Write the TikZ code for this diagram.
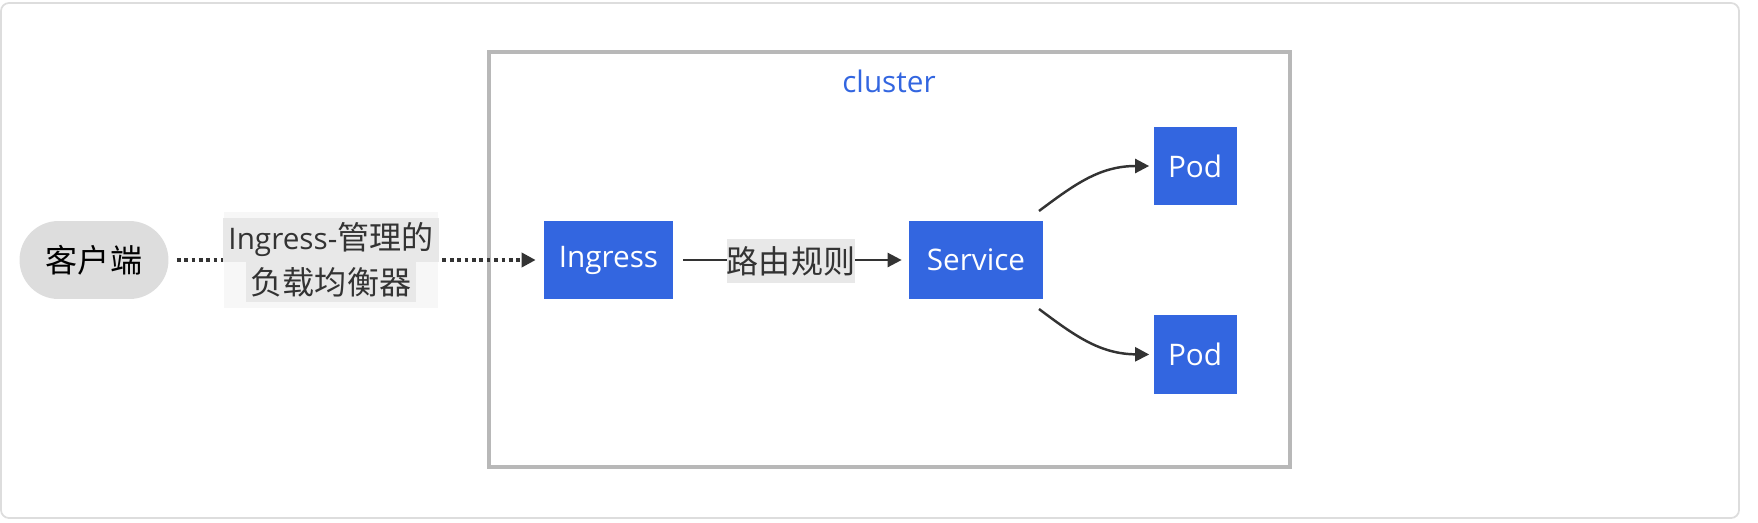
\documentclass[tikz,border=0pt]{standalone}
\usepackage{fontspec}
\setmainfont{Open Sans}
\newfontfamily\cjk[Scale=1.08]{Noto Sans CJK SC}
\usetikzlibrary{arrows.meta,positioning}
\definecolor{kblue}{HTML}{3366E0}
\definecolor{kline}{HTML}{333333}
\definecolor{kgray}{HTML}{DDDDDD}
\definecolor{kframe}{HTML}{B8B8B8}
\definecolor{klabel}{HTML}{E8E8E8}
\definecolor{klabelbg}{HTML}{F2F2F2}
\begin{document}
\begin{tikzpicture}[x=0.02cm,y=0.02cm]
\tikzset{txt/.style={font=\fontsize{16.9}{25}\selectfont},
  box/.style={txt, fill=kblue, text=white, minimum height=1.56cm, inner sep=0pt},
  link/.style={draw=kline, line width=1.4pt, -{Triangle[length=0.28cm,width=0.28cm]}},
  lbl/.style={txt, text=kline, inner sep=0pt, align=center}}
\useasboundingbox (0,0) rectangle (1758,522);
% outer frame and cluster
\draw[kgray, line width=1pt, rounded corners=0.16cm] (1,519) rectangle (1739,4);
\draw[kframe, line width=2pt] (489,470) rectangle (1290,55);
\node[txt, text=kblue] (clu) at (889,441) {cluster};
% nodes
\node[txt, fill=kgray, rounded corners=0.78cm, minimum width=2.98cm, minimum height=1.56cm, inner sep=0pt] (client) at (94,262) {\cjk 客户端};
\node[box, minimum width=2.58cm] (ing) at (608.5,262) {Ingress};
\node[box, minimum width=2.68cm] (svc) at (976,262) {Service};
\node[box, minimum width=1.66cm, minimum height=1.58cm] (pod1) at (1195,356) {Pod};
\node[box, minimum width=1.66cm, minimum height=1.58cm] (pod2) at (1195,167.5) {Pod};
% connectors
\draw[link, line width=2.1pt, dash pattern=on 2.1pt off 2.1pt, shorten <=0.16cm, shorten >=0.16cm] (client) -- (ing);
\node[lbl, fill=klabelbg, fill opacity=0.6, text opacity=1, minimum width=4.3cm, minimum height=1.92cm] (lb1) at (331,262) {};
\node[lbl] (lb1t) at (lb1) {\colorbox{klabel}{Ingress-{\cjk 管理的}}\\[-1pt]\colorbox{klabel}{\cjk 负载均衡器}};
\draw[link, shorten <=0.2cm, shorten >=0.14cm] (ing) -- (svc);
\node[lbl, fill=klabel, minimum width=2.56cm, minimum height=0.88cm] (lb2) at (791,261) {\cjk 路由规则};
\coordinate (s1) at (1039,311);
\coordinate (s2) at (1039,213);
\draw[link, shorten >=0.08cm] (s1) .. controls (1075,338) and (1100,356) .. (pod1.west);
\draw[link, shorten >=0.08cm] (s2) .. controls (1075,186) and (1100,168) .. (pod2.west);
\end{tikzpicture}
\end{document}
